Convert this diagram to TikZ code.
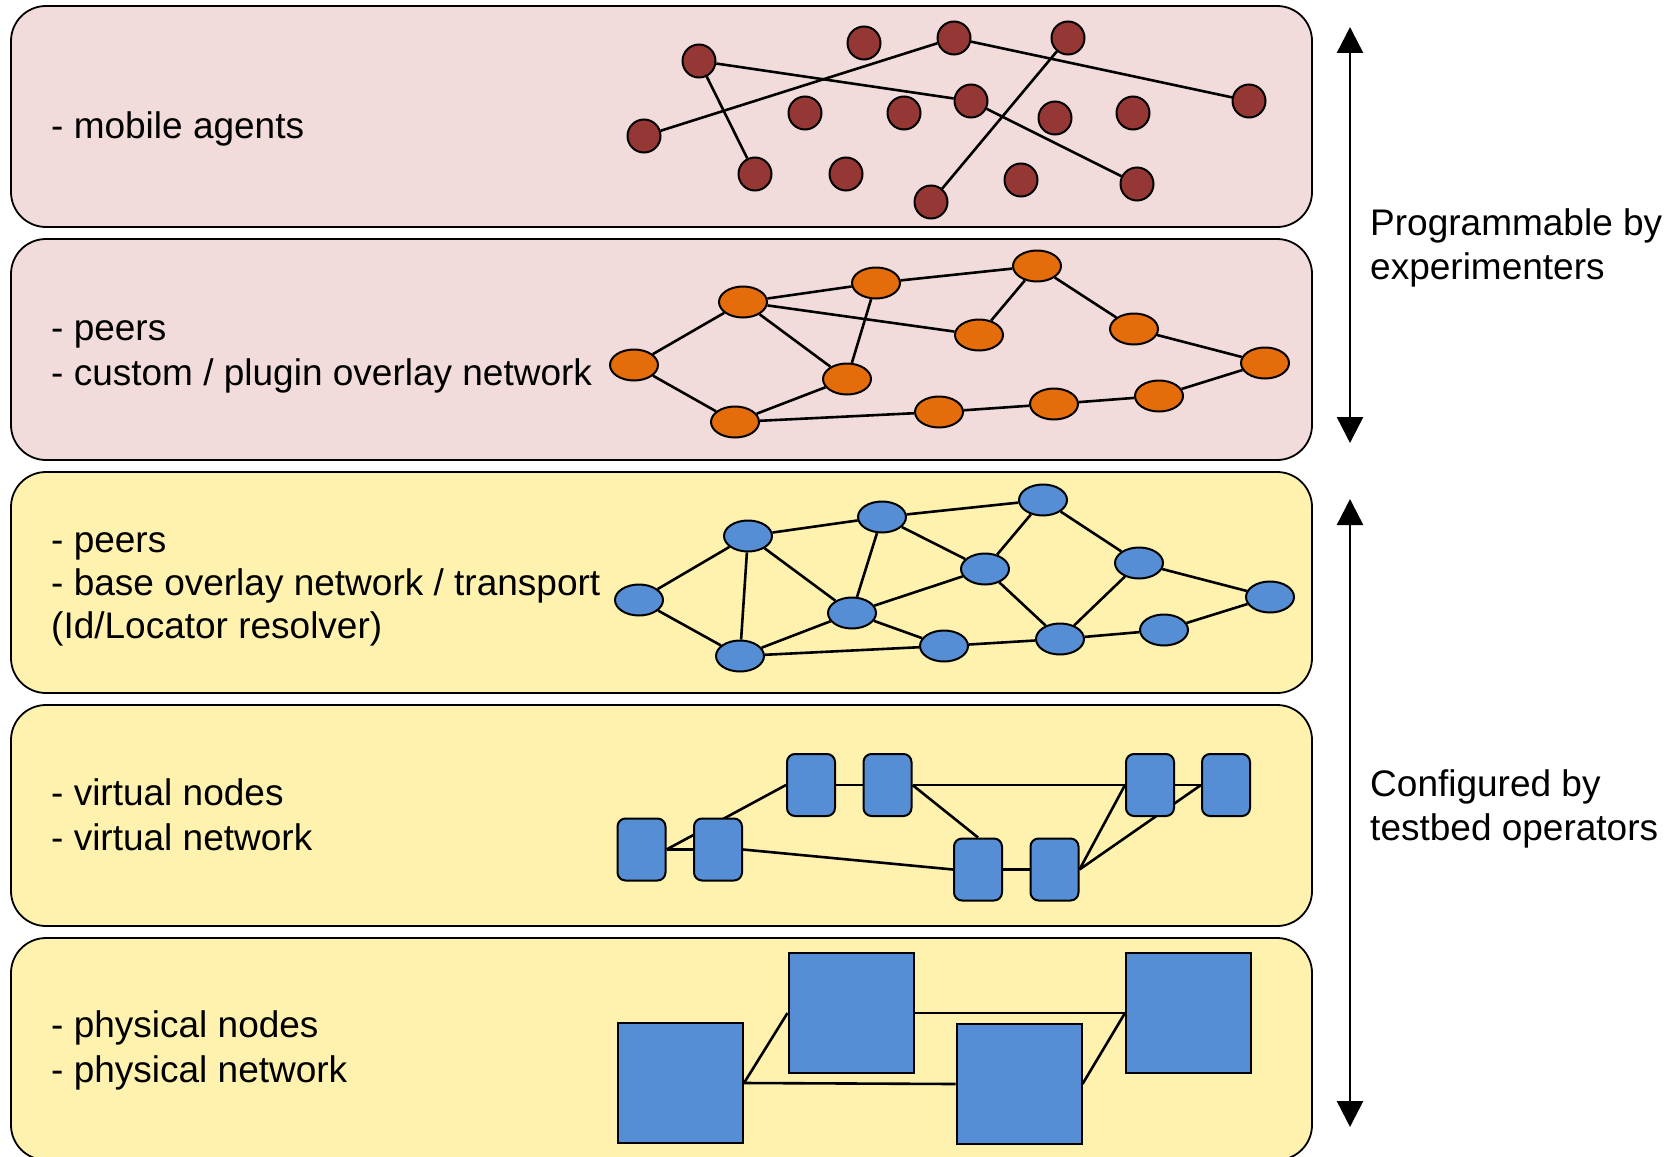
\documentclass[tikz,border=0pt]{standalone}
\usepackage{fontspec}
\setmainfont{Liberation Sans}
\usetikzlibrary{shapes.geometric,arrows.meta}
\definecolor{pinkbg}{HTML}{F2DCDB}
\definecolor{yellowbg}{HTML}{FEF2AE}
\definecolor{agentred}{HTML}{953735}
\definecolor{peerorange}{HTML}{E46C0A}
\definecolor{nodeblue}{HTML}{558ED5}
\pgfdeclarelayer{back}
\pgfdeclarelayer{mid}
\pgfsetlayers{back,mid,main}
\begin{document}
\begin{tikzpicture}[x=1pt,y=-1pt,
  layerbox/.style={draw=black,line width=1.8pt,rounded corners=35pt},
  agent/.style={circle,draw=black,line width=2pt,fill=agentred,minimum size=33pt,inner sep=0pt},
  opeer/.style={ellipse,draw=black,line width=2pt,fill=peerorange,minimum width=48pt,minimum height=31pt,inner sep=0pt},
  bpeer/.style={ellipse,draw=black,line width=2pt,fill=nodeblue,minimum width=48pt,minimum height=31pt,inner sep=0pt},
  vnode/.style={rectangle,rounded corners=8pt,draw=black,line width=2pt,fill=nodeblue,minimum width=48pt,minimum height=62pt,inner sep=0pt},
  pnode/.style={rectangle,draw=black,line width=2pt,fill=nodeblue,minimum width=125pt,minimum height=120pt,inner sep=0pt},
  link/.style={draw=black,line width=2.6pt},
  lbl/.style={anchor=base west,inner sep=0pt,font=\fontsize{37pt}{44pt}\selectfont},
  spanarrow/.style={line width=2.5pt,{Triangle[width=26pt,length=26pt]}-{Triangle[width=26pt,length=26pt]}}
]
\useasboundingbox (0,0) rectangle (1680,1156);
\begin{pgfonlayer}{back}
\fill[white] (0,0) rectangle (1680,1156);
\draw[layerbox,fill=pinkbg] (11,6) rectangle (1312,227);
\draw[layerbox,fill=pinkbg] (11,239) rectangle (1312,460);
\draw[layerbox,fill=yellowbg] (11,472) rectangle (1312,693);
\draw[layerbox,fill=yellowbg] (11,705) rectangle (1312,926);
\draw[layerbox,fill=yellowbg] (11,938) rectangle (1312,1160);
\end{pgfonlayer}

% ---------- layer 1: mobile agents
\node[agent] (a1) at (699,61) {};
\node[agent] (a2) at (864,43) {};
\node[agent] (a3) at (954,38) {};
\node[agent] (a4) at (1068,38) {};
\node[agent] (a5) at (1249,101) {};
\node[agent] (a6) at (644,136) {};
\node[agent] (a7) at (805,113) {};
\node[agent] (a8) at (904,113) {};
\node[agent] (a9) at (971,101) {};
\node[agent] (a10) at (1055,118) {};
\node[agent] (a11) at (1133,113) {};
\node[agent] (a12) at (755,174) {};
\node[agent] (a13) at (846,174) {};
\node[agent] (a14) at (931,202) {};
\node[agent] (a15) at (1021,180) {};
\node[agent] (a16) at (1137,184) {};

% ---------- layer 2: custom overlay peers
\node[opeer] (b1) at (634,365) {};
\node[opeer] (b2) at (743,302) {};
\node[opeer] (b3) at (876,283) {};
\node[opeer] (b4) at (1037,266) {};
\node[opeer] (b5) at (979,335) {};
\node[opeer] (b6) at (1134,329) {};
\node[opeer] (b7) at (1265,363) {};
\node[opeer] (b8) at (847,379) {};
\node[opeer] (b9) at (735,422) {};
\node[opeer] (b10) at (939,412) {};
\node[opeer] (b11) at (1054,404) {};
\node[opeer] (b12) at (1159,396) {};

% ---------- layer 3: base overlay peers
\node[bpeer] (c1) at (639,600) {};
\node[bpeer] (c2) at (748,536) {};
\node[bpeer] (c3) at (882,517) {};
\node[bpeer] (c4) at (1043,500) {};
\node[bpeer] (c5) at (985,569) {};
\node[bpeer] (c6) at (1139,563) {};
\node[bpeer] (c7) at (1270,597) {};
\node[bpeer] (c8) at (852,613) {};
\node[bpeer] (c9) at (740,656) {};
\node[bpeer] (c10) at (944,646) {};
\node[bpeer] (c11) at (1060,639) {};
\node[bpeer] (c12) at (1164,630) {};

% ---------- layer 4: virtual nodes
\node[vnode] (d1) at (641.5,849.5) {};
\node[vnode] (d2) at (718,849.5) {};
\node[vnode] (d3) at (811,785) {};
\node[vnode] (d4) at (887.5,785) {};
\node[vnode] (d5) at (978,869.5) {};
\node[vnode] (d6) at (1054.5,869.5) {};
\node[vnode] (d7) at (1150,785) {};
\node[vnode] (d8) at (1226,785) {};

% ---------- layer 5: physical nodes
\node[pnode] (e1) at (680.5,1083) {};
\node[pnode] (e2) at (851,1013) {};
\node[pnode] (e3) at (1019,1084) {};
\node[pnode] (e4) at (1188.5,1013) {};

\begin{pgfonlayer}{mid}
\draw[link] (a1) -- (a9);
\draw[link] (a1) -- (a12);
\draw[link] (a6) -- (a3);
\draw[link] (a3) -- (a5);
\draw[link] (a4) -- (a14);
\draw[link] (a9) -- (a16);

\draw[link] (b1) -- (b2);
\draw[link] (b1) -- (b9);
\draw[link] (b2) -- (b3);
\draw[link] (b2) -- (b5);
\draw[link] (b2) -- (b8);
\draw[link] (b3) -- (b4);
\draw[link] (b3) -- (b8);
\draw[link] (b4) -- (b5);
\draw[link] (b4) -- (b6);
\draw[link] (b6) -- (b7);
\draw[link] (b7) -- (b12);
\draw[link] (b12) -- (b11);
\draw[link] (b11) -- (b10);
\draw[link] (b10) -- (b9);
\draw[link] (b9) -- (b8);

\draw[link] (c1) -- (c2);
\draw[link] (c1) -- (c9);
\draw[link] (c2) -- (c3);
\draw[link] (c2) -- (c9);
\draw[link] (c2) -- (c8);
\draw[link] (c3) -- (c4);
\draw[link] (c3) -- (c8);
\draw[link] (c3) -- (c5);
\draw[link] (c4) -- (c5);
\draw[link] (c4) -- (c6);
\draw[link] (c5) -- (c8);
\draw[link] (c5) -- (c11);
\draw[link] (c6) -- (c11);
\draw[link] (c6) -- (c7);
\draw[link] (c7) -- (c12);
\draw[link] (c12) -- (c11);
\draw[link] (c11) -- (c10);
\draw[link] (c10) -- (c8);
\draw[link] (c10) -- (c9);
\draw[link] (c8) -- (c9);

\draw[link] (d1.east) -- (d2.west);
\draw[link] (d1.east) -- (d3.west);
\draw[link] (d2.east) -- (d5.west);
\draw[link] (d3.east) -- (d4.west);
\draw[link] (d4.east) -- (d7.west);
\draw[link] (d4.east) -- (d5.north);
\draw[link] (d5.east) -- (d6.west);
\draw[link] (d6.east) -- (d7.west);
\draw[link] (d6.east) -- (d8.west);
\draw[link] (d7.east) -- (d8.west);

\draw[link] (e1.east) -- (e2.west);
\draw[link] (e1.east) -- (e3.west);
\draw[link] (e2.east) -- (e4.west);
\draw[link] (e3.east) -- (e4.west);
\end{pgfonlayer}

% ---------- labels
\node[lbl] (t1) at (51,138) {- mobile agents};
\node[lbl] (t2a) at (51,340) {- peers};
\node[lbl] (t2b) at (51,385) {- custom / plugin overlay network};
\node[lbl] (t3a) at (51,552) {- peers};
\node[lbl] (t3b) at (51,595) {- base overlay network / transport};
\node[lbl] (t3c) at (51,638) {(Id/Locator resolver)};
\node[lbl] (t4a) at (51,805) {- virtual nodes};
\node[lbl] (t4b) at (51,850) {- virtual network};
\node[lbl] (t5a) at (51,1037) {- physical nodes};
\node[lbl] (t5b) at (51,1082) {- physical network};

\node[lbl] (r1a) at (1370,235) {Programmable by};
\node[lbl] (r1b) at (1370,279) {experimenters};
\node[lbl] (r2a) at (1370,796) {Configured by};
\node[lbl] (r2b) at (1370,840) {testbed operators};

% ---------- scope arrows
\coordinate (p1) at (1350,27);
\coordinate (p2) at (1350,443);
\coordinate (q1) at (1350,499);
\coordinate (q2) at (1350,1127);
\draw[spanarrow] (p1) -- (p2);
\draw[spanarrow] (q1) -- (q2);
\end{tikzpicture}
\end{document}
